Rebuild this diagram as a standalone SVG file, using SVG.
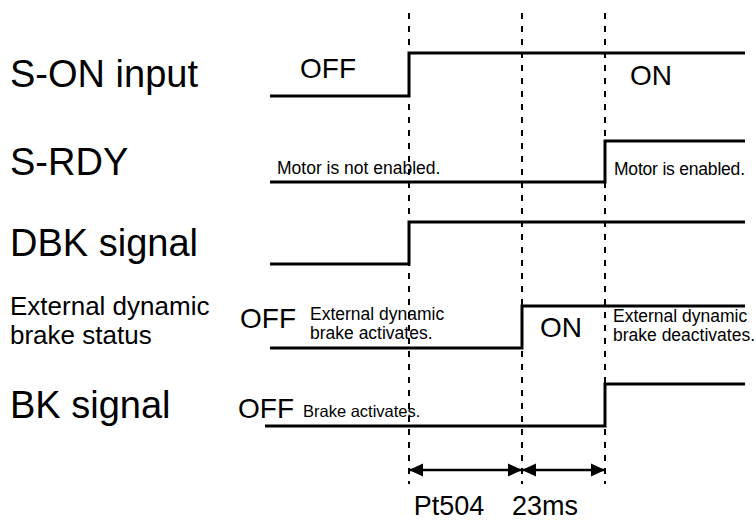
<svg xmlns="http://www.w3.org/2000/svg" width="756" height="521" viewBox="0 0 756 521">
<style>
text{font-family:"Liberation Sans",Arial,sans-serif;fill:#000}
.big{font-size:38px}
.mid{font-size:26px}
.st{font-size:28px}
.sm{font-size:17.5px}
.sig{fill:none;stroke:#000;stroke-width:3}
.dash{stroke:#000;stroke-width:2;stroke-dasharray:6,7}
.arr{stroke:#000;stroke-width:2.5}
</style>
<defs>
<marker id="ah" markerWidth="14" markerHeight="14" refX="14" refY="7" orient="auto-start-reverse" markerUnits="userSpaceOnUse"><path d="M0,0.5L14,7L0,13.5Z" fill="#000"/></marker>
</defs>
<g id="labels">
<text class="big" x="10" y="87">S-ON input</text>
<text class="big" x="10" y="175">S-RDY</text>
<text class="big" x="10" y="256">DBK signal</text>
<text class="mid" x="10" y="315">External dynamic</text>
<text class="mid" x="10" y="344">brake status</text>
<text class="big" x="10" y="418">BK signal</text>
</g>
<g id="connectors">
<line class="dash" x1="409" y1="13" x2="409" y2="484"/>
<line class="dash" x1="522" y1="13" x2="522" y2="484"/>
<line class="dash" x1="605" y1="13" x2="605" y2="484"/>
<line class="arr" x1="409" y1="470" x2="522" y2="470" marker-start="url(#ah)" marker-end="url(#ah)"/>
<line class="arr" x1="522" y1="470" x2="605" y2="470" marker-start="url(#ah)" marker-end="url(#ah)"/>
</g>
<g id="s-on">
<path class="sig" d="M270,96H409V53H745"/>
<text class="st" x="300" y="78">OFF</text>
<text class="st" x="630" y="85">ON</text>
</g>
<g id="s-rdy">
<path class="sig" d="M270,182H605V141H745"/>
<text class="sm" x="277" y="174">Motor is not enabled.</text>
<text class="sm" x="614" y="175" textLength="131">Motor is enabled.</text>
</g>
<g id="dbk">
<path class="sig" d="M270,264H409V222H745"/>
</g>
<g id="ext">
<path class="sig" d="M270,348H522V306H745"/>
<text class="st" x="240" y="328">OFF</text>
<text class="sm" x="310" y="320">External dynamic</text>
<text class="sm" x="310" y="339">brake activates.</text>
<text class="st" x="540" y="337">ON</text>
<text class="sm" x="613" y="322">External dynamic</text>
<text class="sm" x="613" y="341">brake deactivates.</text>
</g>
<g id="bk">
<path class="sig" d="M265,426H605V384H745"/>
<text class="st" x="238" y="418">OFF</text>
<text class="sm" x="303" y="417" style="font-size:16.5px">Brake activates.</text>
</g>
<g id="timing">
<text x="449" y="515" text-anchor="middle" style="font-size:27px">Pt504</text>
<text x="545" y="515" text-anchor="middle" style="font-size:27px">23ms</text>
</g>
</svg>
